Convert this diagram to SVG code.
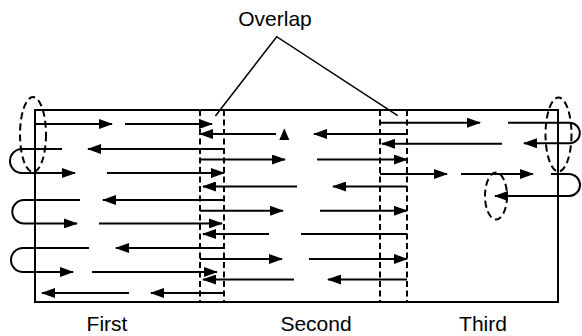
<svg xmlns="http://www.w3.org/2000/svg" width="582" height="336" viewBox="0 0 582 336">
<defs>
<marker id="ah" markerUnits="userSpaceOnUse" markerWidth="14" markerHeight="10" refX="13" refY="5" orient="auto">
<path d="M0,0 L14,5 L0,10 Z" fill="#000"/>
</marker>
<style>
.ln{stroke:#000;stroke-width:2;fill:none}
.ar{stroke:#000;stroke-width:2;fill:none;marker-end:url(#ah)}
.frame{stroke:#000;stroke-width:2;fill:none}
.dash{stroke:#000;stroke-width:2;fill:none;stroke-dasharray:6 3.5}
.ell{stroke:#000;stroke-width:2;fill:none;stroke-dasharray:7 4}
.lead{stroke:#000;stroke-width:1.5;fill:none}
.lbl{font-family:"Liberation Sans",Arial,Helvetica,sans-serif;font-size:21px;fill:#000;text-anchor:middle}
</style>
</defs>
<rect width="582" height="336" fill="#fff"/>

<g id="frame">
<rect class="frame" x="35" y="110" width="523" height="192"/>
</g>

<g id="overlap-boundaries">
<line class="dash" x1="200" y1="110" x2="200" y2="302"/>
<line class="dash" x1="224" y1="110" x2="224" y2="302"/>
<line class="dash" x1="380" y1="110" x2="380" y2="302"/>
<line class="dash" x1="407" y1="110" x2="407" y2="302"/>
</g>

<g id="connectors">
<!-- First strip -->
<line class="ar" x1="35" y1="124" x2="112" y2="124"/>
<line class="ar" x1="125" y1="124" x2="212" y2="124"/>
<line class="ar" x1="224" y1="149" x2="88" y2="149"/>
<path class="ar" d="M62,149 H22 A12,12 0 0 0 22,173 H75"/>
<line class="ar" x1="107" y1="173" x2="224" y2="173"/>
<line class="ar" x1="224" y1="200" x2="103" y2="200"/>
<path class="ar" d="M80,200 H24 A11.7,11.7 0 0 0 24,223.4 H77"/>
<line class="ar" x1="99" y1="223.4" x2="222" y2="223.4"/>
<line class="ar" x1="224" y1="248" x2="116" y2="248"/>
<path class="ar" d="M89,248 H23 A12,12 0 0 0 23,272 H73"/>
<line class="ar" x1="92" y1="272" x2="217" y2="272"/>
<line class="ar" x1="129" y1="293" x2="42" y2="293"/>
<line class="ar" x1="224" y1="293" x2="151" y2="293"/>

<!-- Second strip -->
<line class="ar" x1="276" y1="134" x2="200" y2="134"/>
<polygon points="284.3,128.3 279.3,140 289.3,140" fill="#000"/>
<line class="ar" x1="407" y1="134" x2="314" y2="134"/>
<line class="ar" x1="200" y1="159.5" x2="285" y2="159.5"/>
<line class="ar" x1="317" y1="159.5" x2="407" y2="159.5"/>
<line class="ar" x1="297" y1="186.5" x2="203" y2="186.5"/>
<line class="ar" x1="407" y1="186.5" x2="333" y2="186.5"/>
<line class="ar" x1="200" y1="210.8" x2="283" y2="210.8"/>
<line class="ar" x1="320" y1="210.8" x2="407" y2="210.8"/>
<line class="ar" x1="269" y1="234" x2="203" y2="234"/>
<line class="ln" x1="407" y1="234" x2="301" y2="234"/>
<line class="ar" x1="200" y1="259" x2="282" y2="259"/>
<line class="ar" x1="309" y1="259" x2="407" y2="259"/>
<line class="ar" x1="294" y1="279.5" x2="203" y2="279.5"/>
<line class="ar" x1="407" y1="279.5" x2="328" y2="279.5"/>

<!-- Third strip -->
<line class="ar" x1="380" y1="122.7" x2="480" y2="122.7"/>
<path class="ar" d="M508,122.7 H569.5 A10.3,10.3 0 0 1 569.5,143.3 H524"/>
<line class="ar" x1="502" y1="143.8" x2="382" y2="143.8"/>
<line class="ar" x1="380" y1="174" x2="447" y2="174"/>
<line class="ar" x1="461" y1="174" x2="533" y2="174"/>
<path class="ar" d="M551,174 H569 A11,11 0 0 1 569,196 H495"/>
</g>

<g id="overlap-marks">
<ellipse class="ell" cx="33" cy="134.5" rx="13" ry="37.5"/>
<ellipse class="ell" cx="558.5" cy="134.5" rx="13" ry="37"/>
<ellipse class="ell" cx="496" cy="196" rx="11" ry="23.5"/>
</g>

<g id="overlap-label">
<text class="lbl" x="275" y="26">Overlap</text>
<polyline class="lead" points="215.4,116 276.7,36.7 397.7,115.7"/>
</g>

<g id="strip-labels">
<text class="lbl" x="107" y="331">First</text>
<text class="lbl" x="316" y="331">Second</text>
<text class="lbl" x="483" y="331">Third</text>
</g>
</svg>
